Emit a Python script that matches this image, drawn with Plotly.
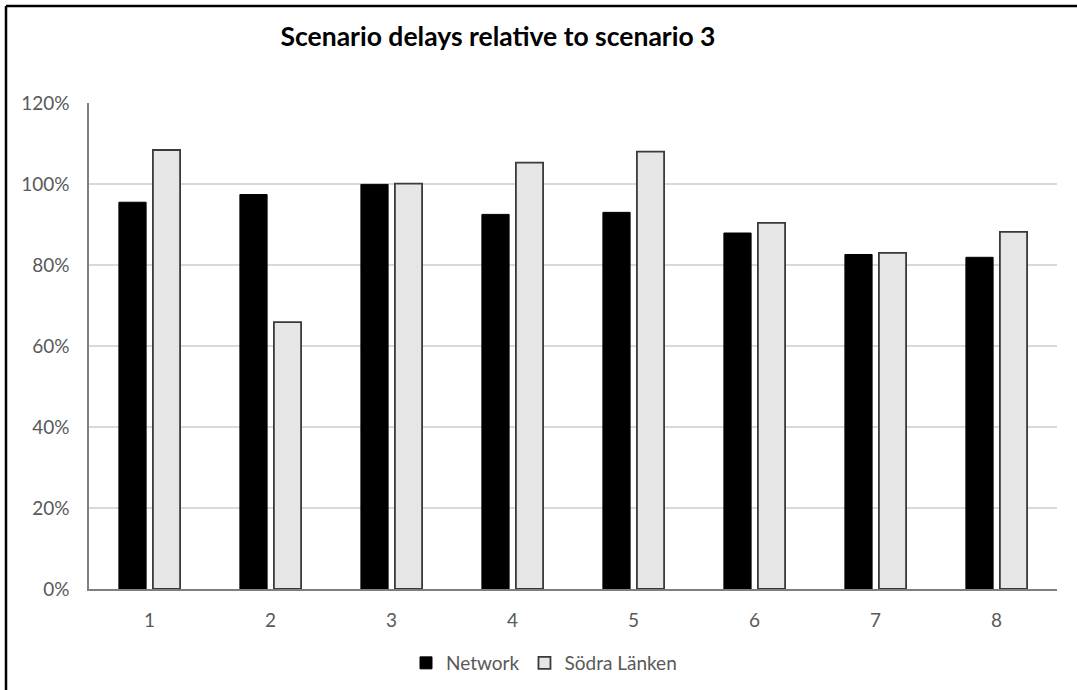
import plotly.graph_objects as go

categories = ["1", "2", "3", "4", "5", "6", "7", "8"]
network = [0.955, 0.974, 0.999, 0.925, 0.930, 0.879, 0.826, 0.819]
sodra_lanken = [1.084, 0.659, 1.001, 1.053, 1.080, 0.904, 0.830, 0.882]
y_ticks = [0, 0.2, 0.4, 0.6, 0.8, 1.0, 1.2]
y_tick_labels = ["0%", "20%", "40%", "60%", "80%", "100%", "120%"]

W, H = 1077, 690
L, R, T, B = 89, 20, 103, 101
pw, ph = W - L - R, H - T - B

font_family = "Lato, 'Open Sans', sans-serif"
tick_color = "#595959"

fig = go.Figure()
fig.add_trace(go.Bar(
    x=categories, y=network, name="Network",
    marker=dict(color="#000000", line=dict(color="#000000", width=1)),
))
fig.add_trace(go.Bar(
    x=categories, y=sodra_lanken, name="Södra Länken",
    marker=dict(color="#e6e6e6", line=dict(color="#3a3a3a", width=1.8)),
))

# outer frame (top and left edges)
fig.add_shape(type="line", xref="paper", yref="paper",
              x0=(6 - L) / pw, x1=(W + 5 - L) / pw,
              y0=(H - B - 6) / ph, y1=(H - B - 6) / ph,
              line=dict(color="black", width=2.5))
fig.add_shape(type="line", xref="paper", yref="paper",
              x0=(6 - L) / pw, x1=(6 - L) / pw,
              y0=(H - B - 6) / ph, y1=(H - B - H - 5) / ph,
              line=dict(color="black", width=2.5))

fig.update_layout(
    width=W, height=H,
    margin=dict(l=L, r=R, t=T, b=B, autoexpand=False),
    paper_bgcolor="white", plot_bgcolor="white",
    barmode="group", bargap=0.438, bargroupgap=0.2,
    title=dict(text="<b>Scenario delays relative to scenario 3</b>",
               x=498 / W, xanchor="center", xref="container",
               y=1 - 37 / H, yanchor="middle", yref="container",
               font=dict(family=font_family, size=26.5, color="#000000")),
    font=dict(family=font_family, size=19, color=tick_color),
    showlegend=True,
    legend=dict(orientation="h", x=(544 - L) / pw, xanchor="center",
                y=(H - B - 663) / ph, yanchor="middle",
                font=dict(family=font_family, size=19, color=tick_color),
                itemwidth=30, traceorder="normal"),
)
fig.update_xaxes(
    showline=True, linecolor="#7f7f7f", linewidth=1.5,
    showgrid=False, ticks="", ticklabelstandoff=13,
    tickfont=dict(family=font_family, size=19, color=tick_color),
)
fig.update_yaxes(
    range=[0, 1.2], tickvals=y_ticks, ticktext=y_tick_labels,
    showline=True, linecolor="#7f7f7f", linewidth=1.5,
    showgrid=True, gridcolor="#d9d9d9", gridwidth=1.5,
    zeroline=False, ticks="", ticklabelstandoff=14,
    tickfont=dict(family=font_family, size=19, color=tick_color),
)

fig.write_html("out.html", config={"displayModeBar": False},
               post_script="document.body.style.margin='0';")
